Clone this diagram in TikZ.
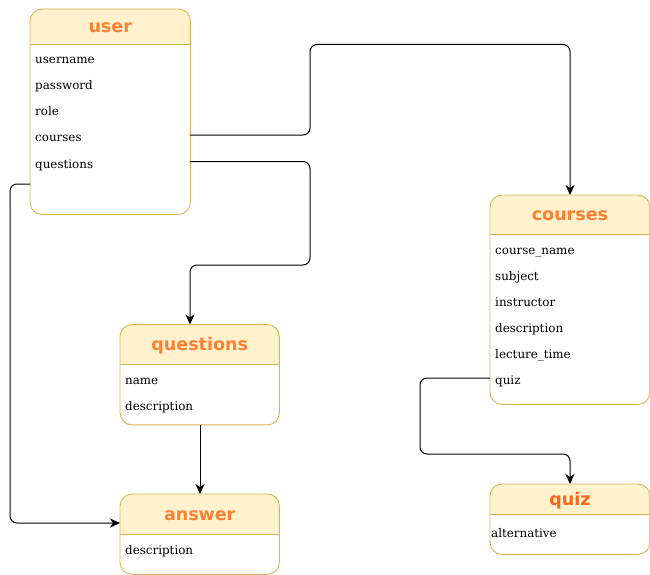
\documentclass[tikz,border=0pt]{standalone}
\usepackage{fontspec}
\usetikzlibrary{arrows.meta,calc}
\newfontfamily\titlefont{DejaVu Sans}[BoldFont={DejaVu Sans Bold}]
\newfontfamily\fieldfont{DejaVu Serif}
\definecolor{hdrfill}{HTML}{FFF2CC}
\definecolor{boxline}{HTML}{D6B656}
\definecolor{ttl}{HTML}{FF8033}
\definecolor{ttlquiz}{HTML}{FF661A}
\tikzset{
  boxnode/.style={anchor=north west, inner sep=0pt, fill=white, rounded corners=12pt},
  boxborder/.style={draw=boxline, line width=0.9pt, rounded corners=12pt},
  sepline/.style={draw=boxline, line width=0.9pt},
  ttlnode/.style={anchor=base, inner sep=0pt, font=\titlefont\bfseries\fontsize{17.5}{20}\selectfont, text=ttl},
  field/.style={anchor=base west, inner sep=0pt, font=\fieldfont\fontsize{11.9}{14}\selectfont},
  link/.style={draw, line width=1pt, rounded corners=7pt,
    -{Stealth[length=10pt,width=9pt,inset=3pt]}},
}
% entity box: name, x, y, width, height, header height, title
\newcommand\erentity[7]{%
  \node[boxnode, minimum width=#4pt, minimum height=#5pt] (#1) at (#2,#3) {};
  \coordinate (#1-hl) at ([yshift=-#6pt]#1.north west);
  \coordinate (#1-hr) at ([yshift=-#6pt]#1.north east);
  \fill[hdrfill] (#1-hl) [rounded corners=12pt] -- (#1.north west) -- (#1.north east) [sharp corners] -- (#1-hr) -- cycle;
  \draw[sepline] (#1-hl) -- (#1-hr);
  \draw[boxborder] (#1.south west) rectangle (#1.north east);
  \coordinate (#1-tc) at ($(#1.north)!0.5!($(#1-hl)!0.5!(#1-hr)$)$);
  \node[ttlnode] (#1-title) at ([yshift=-6pt]#1-tc) {#7};
}
\begin{document}
\begin{tikzpicture}[x=1pt,y=-1pt]
\useasboundingbox (0,0) rectangle (650,575);

% entities
\erentity{user}{30}{9}{160}{205}{35}{user}
\erentity{courses}{490}{195}{159.5}{209}{39}{courses}
\erentity{questions}{120}{324.5}{159}{100}{39.5}{questions}
\erentity{answer}{120}{494}{159}{80}{40}{answer}
\erentity{quiz}{490}{484}{159.5}{70}{30}{\textcolor{ttlquiz}{quiz}}

% attributes
\node[field] (user-a1) at (35,64) {username};
\node[field] (user-a2) at (35,90) {password};
\node[field] (user-a3) at (35,116) {role};
\node[field] (user-a4) at (35,142) {courses};
\node[field] (user-a5) at (35,168) {questions};

\node[field] (courses-a1) at (495,254) {course\_name};
\node[field] (courses-a2) at (495,280) {subject};
\node[field] (courses-a3) at (495,306) {instructor};
\node[field] (courses-a4) at (495,332) {description};
\node[field] (courses-a5) at (495,358) {lecture\_time};
\node[field] (courses-a6) at (495,384) {quiz};

\node[field] (questions-a1) at (125,384) {name};
\node[field] (questions-a2) at (125,410) {description};

\node[field] (answer-a1) at (125,554) {description};

\node[field] (quiz-a1) at (491,537) {alternative};

% relations
\coordinate (u-c) at (190,135);
\coordinate (u-q) at (190,161.5);
\coordinate (u-a) at (30,184);
\coordinate (c-q) at (490,378);

\draw[link] (u-c) -- (310,135) -- (310,44.5) -- (570,44.5) -- (courses.north -| 570,0);
\draw[link] (u-q) -- (310,161.5) -- (310,265) -- (190,265) -- (questions.north -| 190,0);
\draw[link] (u-a) -- (10,184) -- (10,523) -- (answer.west |- 0,523);
\draw[link] (questions.south -| 200,0) -- (answer.north -| 200,0);
\draw[link] (c-q) -- (420,378) -- (420,454) -- (570,454) -- (quiz.north -| 570,0);
\end{tikzpicture}
\end{document}
